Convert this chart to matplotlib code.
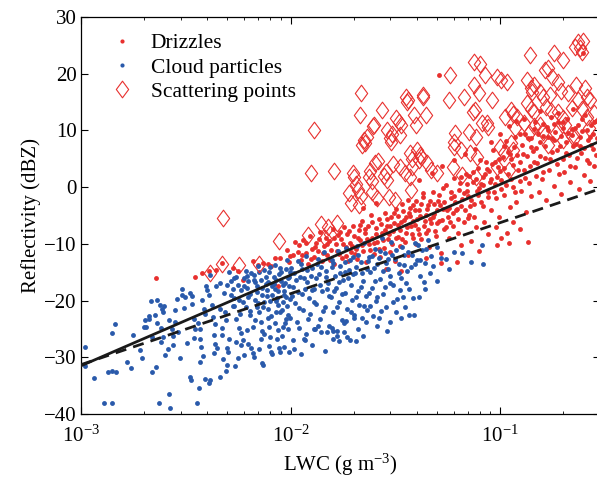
import matplotlib
matplotlib.use("Agg")
from matplotlib import pyplot as plt
from matplotlib.path import Path
from matplotlib.lines import Line2D

plt.rcParams['font.family'] = ['Liberation Serif', 'DejaVu Serif']
plt.rcParams['mathtext.fontset'] = 'custom'
plt.rcParams['mathtext.rm'] = 'Liberation Serif'
plt.rcParams['mathtext.it'] = 'Liberation Serif:italic'

# cloud particles (LWC in g m-3, reflectivity in dBZ)
cloud = [
    (0.00105, -28.1), (0.00104, -31.6), (0.00115, -33.7), (0.00129, -38.1), (0.00141, -38.1),
    (0.00135, -32.6), (0.00141, -32.4), (0.00147, -32.6), (0.00145, -24.1), (0.00141, -25.7),
    (0.00166, -30.8), (0.00173, -31.9), (0.00177, -26.1), (0.00191, -28.7), (0.00195, -30.1),
    (0.00200, -24.7), (0.00205, -24.7), (0.00203, -23.5), (0.00210, -23.2), (0.00216, -20.1),
    (0.00218, -26.4), (0.00218, -32.6), (0.00228, -31.7), (0.00225, -22.5), (0.00236, -38.1),
    (0.00230, -19.9), (0.00238, -20.8), (0.00243, -21.5), (0.00246, -22.0), (0.00240, -24.9),
    (0.00245, -26.4), (0.00240, -27.3), (0.00252, -29.6), (0.00262, -23.4), (0.00263, -36.5),
    (0.00266, -39.0), (0.00275, -27.9), (0.00272, -25.0), (0.00276, -26.3), (0.00280, -21.7),
    (0.00287, -19.7), (0.00298, -30.2), (0.00302, -18.0), (0.00305, -19.0), (0.00312, -19.3),
    (0.00330, -33.5), (0.00335, -34.0), (0.00332, -18.6), (0.00338, -19.2), (0.00345, -23.2),
    (0.00350, -25.0), (0.00345, -26.6), (0.00358, -38.1), (0.00366, -35.4), (0.00370, -25.0),
    (0.00368, -26.8), (0.00374, -28.1), (0.00382, -29.7), (0.00385, -21.5), (0.00380, -19.9),
    (0.00390, -33.8), (0.00395, -17.5), (0.00400, -18.1), (0.00410, -34.5), (0.00415, -34.0),
    (0.00412, -15.5), (0.00420, -20.7), (0.00425, -22.9), (0.00435, -24.1), (0.00438, -27.6),
    (0.00445, -28.4), (0.00432, -29.3), (0.00460, -33.5), (0.00460, -16.9), (0.00470, -26.0),
    (0.00475, -30.3), (0.00485, -22.0), (0.00492, -23.5), (0.00495, -28.3), (0.00500, -31.3),
    (0.00505, -29.0), (0.00510, -15.0), (0.00520, -16.5), (0.00530, -18.0), (0.00535, -19.5),
    (0.00540, -21.0), (0.00550, -15.8), (0.00560, -17.2), (0.00545, -31.5), (0.00560, -30.1),
    (0.00570, -24.9), (0.00580, -25.8), (0.00590, -27.0), (0.00575, -22.3), (0.00595, -20.2),
    (0.00600, -16.0), (0.00600, -29.6), (0.00730, -31.0),
    (0.0021, -22.8), (0.0023, -24.0), (0.0025, -20.9), (0.0026, -28.6), (0.0028, -23.7),
    (0.0029, -25.6), (0.0031, -21.3), (0.0032, -27.4), (0.0034, -20.6), (0.0036, -23.9),
    (0.0037, -30.8), (0.0039, -22.4), (0.0041, -19.0), (0.0043, -26.0), (0.0044, -17.4),
    (0.0046, -21.5), (0.0047, -24.9), (0.0048, -18.7), (0.0049, -32.5), (0.0051, -26.7),
    (0.0053, -20.9), (0.0055, -27.3),
    (0.00610, -14.8), (0.00620, -17.8), (0.00630, -19.4), (0.00640, -22.6), (0.00630, -27.6),
    (0.00650, -28.3), (0.00660, -29.3), (0.00670, -15.5), (0.00680, -16.8), (0.00690, -18.5),
    (0.00700, -20.5), (0.00710, -28.5), (0.00720, -23.8), (0.00730, -25.4), (0.00740, -31.3),
    (0.00750, -14.6), (0.00760, -17.0), (0.00770, -19.2), (0.00780, -21.5), (0.00790, -24.6),
    (0.00800, -26.4), (0.00810, -29.0), (0.00820, -29.5), (0.00830, -15.8), (0.00840, -18.0),
    (0.00850, -20.0), (0.00870, -25.2), (0.00880, -28.3), (0.00890, -22.0), (0.00900, -16.5),
    (0.00920, -24.7), (0.00930, -19.0), (0.00940, -24.0), (0.00950, -14.5), (0.00960, -21.0),
    (0.00980, -17.5), (0.01030, -27.0), (0.00990, -23.0), (0.00890, -29.1), (0.00980, -29.1),
    (0.0065, -15.2), (0.0068, -19.9), (0.0072, -16.3), (0.0074, -21.1), (0.0077, -18.2),
    (0.0079, -14.9), (0.0081, -22.8), (0.0083, -17.1), (0.0086, -19.6), (0.0088, -15.3),
    (0.0091, -21.7), (0.0093, -18.4), (0.0095, -23.3), (0.0097, -16.1), (0.0099, -19.8),
    (0.0068, -23.5), (0.0075, -25.9), (0.0086, -26.7), (0.0093, -28.1), (0.0064, -21.8),
    (0.0070, -13.9), (0.0084, -13.8), (0.0096, -12.9),
    (0.0052, -19.0), (0.0055, -23.3), (0.0058, -18.2), (0.0061, -21.2), (0.0063, -16.6),
    (0.0066, -24.6), (0.0069, -17.5), (0.0071, -22.0), (0.0073, -19.0), (0.0076, -15.9),
    (0.0078, -23.0), (0.0080, -20.0), (0.0082, -17.5), (0.0085, -22.0), (0.0087, -18.3),
    (0.0089, -14.3), (0.0092, -20.3), (0.0094, -16.9), (0.0097, -22.6), (0.0099, -14.9),
    (0.0058, -27.8), (0.0062, -25.2), (0.0067, -30.0), (0.0072, -26.8), (0.0079, -28.0),
    (0.0084, -24.0), (0.0091, -26.3), (0.0097, -25.0),
    (0.0050, -17.2), (0.0054, -16.1), (0.0057, -19.9), (0.0060, -17.4), (0.0062, -15.6),
    (0.0064, -18.9), (0.0067, -16.4), (0.0069, -21.1), (0.0071, -15.0), (0.0073, -17.8),
    (0.0075, -20.2), (0.0078, -16.7), (0.0080, -14.1), (0.0082, -19.0), (0.0085, -16.3),
    (0.0087, -20.8), (0.0090, -14.9), (0.0092, -17.3), (0.0095, -19.3), (0.0098, -15.8),
    (0.0101, -14.2), (0.0103, -17.6), (0.0105, -20.4), (0.0107, -23.8), (0.0109, -13.0),
    (0.0111, -15.9), (0.0113, -18.9), (0.0115, -21.6), (0.0116, -26.8), (0.0118, -12.1),
    (0.0120, -16.7), (0.0122, -19.5), (0.0124, -22.4), (0.0127, -14.3), (0.0129, -17.9),
    (0.0131, -25.1), (0.0133, -20.6), (0.0135, -12.6), (0.0137, -15.4), (0.0139, -23.2),
    (0.0142, -18.3), (0.0144, -11.5), (0.0146, -21.1), (0.0148, -14.8), (0.0151, -16.9),
    (0.0153, -24.4), (0.0156, -19.3), (0.0158, -12.9), (0.0160, -25.3), (0.0160, -22.0),
    (0.0163, -15.7), (0.0165, -17.8), (0.0167, -26.2), (0.0168, -11.2), (0.0171, -20.2),
    (0.0173, -13.9), (0.0176, -23.5), (0.0178, -16.4), (0.0180, -25.6), (0.0182, -18.7),
    (0.0185, -10.8), (0.0187, -21.4), (0.0190, -14.6), (0.0192, -26.9), (0.0194, -17.2),
    (0.0196, -19.9), (0.0198, -12.3), (0.0117, -27.0), (0.0140, -25.6), (0.0150, -25.6),
    (0.0110, -24.9), (0.0186, -26.4), (0.0166, -25.4), (0.0160, -26.8), (0.0130, -25.0),
    (0.0102, -19.2), (0.0106, -16.3), (0.0110, -21.3), (0.0114, -14.4), (0.0117, -18.0),
    (0.0121, -23.2), (0.0125, -15.6), (0.0129, -20.3), (0.0134, -13.6), (0.0138, -17.2),
    (0.0143, -21.9), (0.0147, -15.9), (0.0152, -19.2), (0.0157, -14.0), (0.0162, -18.3),
    (0.0167, -21.1), (0.0172, -15.1), (0.0177, -18.9), (0.0182, -13.2), (0.0188, -16.1),
    (0.0194, -22.1), (0.0199, -15.4), (0.0104, -28.6), (0.0112, -29.4), (0.0119, -25.9),
    (0.0127, -27.9), (0.0136, -24.4), (0.0146, -28.9), (0.0158, -24.8), (0.0170, -27.2),
    (0.0183, -23.6),
    (0.0104, -15.2), (0.0108, -18.5), (0.0112, -13.6), (0.0116, -16.0), (0.0120, -14.6),
    (0.0126, -18.2), (0.0132, -16.1), (0.0140, -14.0), (0.0150, -18.0), (0.0160, -13.4),
    (0.0170, -16.7), (0.0181, -14.9), (0.0193, -12.8), (0.0206, -14.0), (0.0220, -15.2),
    (0.0235, -13.0), (0.0250, -14.3), (0.0265, -12.5), (0.0285, -13.4), (0.0305, -12.0),
    (0.0201, -22.5), (0.0204, -15.1), (0.0207, -10.4), (0.0210, -18.4), (0.0213, -20.8),
    (0.0216, -13.2), (0.0219, -23.1), (0.0222, -16.6), (0.0225, -9.8), (0.0228, -19.2),
    (0.0232, -21.7), (0.0236, -12.4), (0.0240, -14.9), (0.0244, -17.7), (0.0248, -22.8),
    (0.0252, -10.9), (0.0256, -20.1), (0.0260, -13.6), (0.0264, -23.0), (0.0268, -16.2),
    (0.0272, -8.9), (0.0277, -18.8), (0.0282, -11.7), (0.0287, -21.2), (0.0292, -14.4),
    (0.0298, -23.8), (0.0303, -9.7), (0.0309, -17.3), (0.0315, -12.6), (0.0321, -19.8),
    (0.0328, -15.2), (0.0334, -18.1), (0.0341, -10.5), (0.0348, -13.8), (0.0356, -16.9),
    (0.0365, -11.4), (0.0375, -14.0), (0.0384, -19.6), (0.0392, -9.9), (0.0400, -12.8),
    (0.0415, -15.6), (0.0425, -11.0), (0.0438, -13.4), (0.0452, -9.4), (0.0464, -15.2),
    (0.0500, -10.6), (0.0520, -12.5), (0.0600, -11.4), (0.0660, -11.6), (0.0730, -13.2),
    (0.0830, -13.6), (0.0820, -10.2), (0.0570, -14.4), (0.0390, -22.6), (0.0345, -19.4),
    (0.0337, -23.1), (0.0367, -22.6), (0.0200, -23.1), (0.0223, -26.3), (0.0260, -24.5),
    (0.0205, -27.2), (0.0180, -24.0), (0.0240, -21.0), (0.0298, -16.9),
    (0.0205, -19.3), (0.0211, -12.0), (0.0218, -17.6), (0.0224, -21.0), (0.0231, -14.5),
    (0.0238, -18.7), (0.0245, -12.2), (0.0252, -16.5), (0.0259, -19.4), (0.0267, -11.3),
    (0.0275, -14.8), (0.0283, -17.6), (0.0291, -12.7), (0.0300, -15.6), (0.0309, -20.2),
    (0.0318, -11.0), (0.0328, -13.5), (0.0338, -16.0), (0.0348, -12.0), (0.0358, -14.8),
    (0.0369, -17.9), (0.0380, -11.9), (0.0392, -13.6), (0.0404, -10.2), (0.0416, -12.9),
    (0.0432, -16.8), (0.0445, -10.9), (0.0470, -12.2), (0.0480, -13.9), (0.0550, -12.6),
    (0.0210, -25.0), (0.0230, -23.8), (0.0270, -21.8), (0.0290, -25.4), (0.0320, -22.0),
    (0.0350, -21.1), (0.0410, -19.4), (0.0440, -18.0), (0.0500, -16.6),
]

# drizzles
drizzle = [
    (0.00228, -16.0), (0.0035, -15.9), (0.0038, -15.2), (0.0041, -14.8), (0.0044, -14.6),
    (0.0047, -13.4), (0.0053, -14.2), (0.0056, -14.8), (0.0059, -16.3), (0.0066, -13.0),
    (0.0070, -13.7), (0.0074, -13.3), (0.0078, -13.5), (0.0081, -13.9), (0.0084, -12.5),
    (0.0089, -12.5), (0.0087, -17.5), (0.0083, -17.0), (0.0096, -11.1), (0.0099, -12.2),
    (0.0103, -12.0), (0.0108, -11.4), (0.0098, -13.2), (0.0105, -9.6),
    (0.0110, -10.2), (0.0112, -12.8), (0.0115, -9.4), (0.0118, -11.6), (0.0121, -13.5),
    (0.0124, -8.7), (0.0126, -10.9), (0.0129, -12.3), (0.0132, -9.8), (0.0135, -11.3),
    (0.0138, -7.9), (0.0141, -13.0), (0.0144, -10.3), (0.0147, -8.9), (0.0150, -12.0),
    (0.0153, -9.5), (0.0156, -11.0), (0.0159, -7.4), (0.0162, -13.6), (0.0165, -10.1),
    (0.0168, -8.4), (0.0171, -11.8), (0.0174, -9.2), (0.0177, -12.5), (0.0180, -7.0),
    (0.0183, -10.6), (0.0186, -8.2), (0.0189, -13.1), (0.0192, -9.9), (0.0195, -11.4),
    (0.0198, -6.8),
    (0.0113, -11.9), (0.0119, -9.9), (0.0125, -12.6), (0.0131, -10.6), (0.0137, -9.1),
    (0.0143, -11.7), (0.0149, -10.0), (0.0155, -12.9), (0.0161, -9.0), (0.0167, -11.3),
    (0.0173, -7.9), (0.0179, -10.0), (0.0185, -12.2), (0.0191, -7.7), (0.0197, -10.3),
    (0.0202, -8.6), (0.0205, -10.9), (0.0208, -12.7), (0.0212, -7.5), (0.0215, -9.4),
    (0.0219, -5.9), (0.0222, -11.3), (0.0226, -8.1), (0.0230, -13.2), (0.0234, -6.8),
    (0.0238, -10.0), (0.0242, -4.9), (0.0246, -8.9), (0.0250, -11.8), (0.0255, -7.2),
    (0.0259, -9.6), (0.0264, -5.6), (0.0268, -12.4), (0.0273, -8.0), (0.0278, -10.7),
    (0.0283, -4.5), (0.0288, -6.9), (0.0293, -9.1), (0.0298, -11.5), (0.0303, -5.3),
    (0.0309, -7.7), (0.0315, -13.0), (0.0320, -3.8), (0.0326, -8.8), (0.0332, -10.4),
    (0.0338, -6.1), (0.0345, -4.2), (0.0351, -9.7), (0.0358, -7.0), (0.0365, -11.9),
    (0.0372, -5.0), (0.0379, -8.3), (0.0386, -3.1), (0.0393, -6.6), (0.0399, -10.1),
    (0.0255, -2.8), (0.0285, -14.5), (0.0335, -14.8), (0.0362, -2.2), (0.0221, -3.6),
    (0.0203, -11.8), (0.0209, -9.0), (0.0214, -6.6), (0.0220, -10.2), (0.0227, -7.3),
    (0.0233, -9.2), (0.0239, -11.1), (0.0245, -6.2), (0.0251, -9.9), (0.0257, -8.3),
    (0.0263, -10.9), (0.0270, -6.5), (0.0276, -9.3), (0.0282, -7.6), (0.0289, -5.6),
    (0.0296, -8.2), (0.0304, -10.0), (0.0311, -6.4), (0.0318, -8.9), (0.0325, -5.1),
    (0.0333, -7.5), (0.0341, -9.1), (0.0349, -5.8), (0.0357, -8.0), (0.0366, -4.6),
    (0.0374, -6.9), (0.0383, -9.0), (0.0392, -4.0), (0.0401, -5.7),
    (0.0300, -6.8), (0.0313, -4.6), (0.0327, -6.6), (0.0340, -2.9), (0.0355, -5.2),
    (0.0370, -3.6), (0.0385, -6.0), (0.0398, -2.5), (0.0415, -5.0), (0.0430, -1.1),
    (0.0448, -3.9), (0.0463, -5.6), (0.0482, -2.9), (0.0498, -6.4), (0.0518, -3.2),
    (0.0536, -0.2), (0.0558, -4.0), (0.0578, -6.1), (0.0602, -1.6), (0.0622, -3.8),
    (0.0648, 1.8), (0.0670, -1.0), (0.0698, 0.5), (0.0720, -3.4), (0.0745, 2.7),
    (0.0775, -0.7), (0.0800, 4.8), (0.0830, 0.3), (0.0870, 3.2), (0.0910, 1.4),
    (0.0950, 4.5), (0.1000, 2.8), (0.1050, 7.2), (0.1120, 5.9), (0.1180, 8.9),
    (0.1250, 4.4), (0.1320, 9.3), (0.1400, 7.0), (0.1470, 11.4), (0.1550, 13.5),
    (0.0405, -7.4), (0.0412, -4.0), (0.0420, -9.2), (0.0428, -1.8), (0.0436, -5.9),
    (0.0444, -8.1), (0.0452, -3.2), (0.0460, -10.6), (0.0468, -6.4), (0.0477, -0.8),
    (0.0486, -4.7), (0.0495, -8.7), (0.0504, -2.5), (0.0513, -6.0), (0.0523, -11.6),
    (0.0532, -3.9), (0.0542, -7.3), (0.0552, 0.3), (0.0562, -5.2), (0.0573, -9.0),
    (0.0583, -2.0), (0.0594, -6.8), (0.0605, 1.6), (0.0616, -4.1), (0.0628, -8.0),
    (0.0640, -0.5), (0.0652, -3.4), (0.0676, -6.1), (0.0688, 2.4), (0.0701, -1.6),
    (0.0714, -4.9), (0.0727, -9.5), (0.0740, 0.9), (0.0754, -3.0), (0.0768, -7.0),
    (0.0782, 3.3), (0.0797, -0.2), (0.0412, 1.2), (0.0475, 2.5), (0.0530, 3.7),
    (0.0600, 4.8), (0.0680, 5.9), (0.0760, 6.8), (0.0510, 19.8), (0.0445, -12.5),
    (0.0520, -13.4), (0.0620, -13.2), (0.0650, -10.2), (0.0790, -11.3), (0.0700, -5.5),
    (0.0410, -8.3), (0.0421, -3.0), (0.0432, -6.9), (0.0443, -4.9), (0.0454, -7.5),
    (0.0465, -2.4), (0.0477, -5.3), (0.0489, -7.8), (0.0501, -4.0), (0.0514, -1.3),
    (0.0527, -5.8), (0.0540, -2.7), (0.0554, -7.0), (0.0568, -3.6), (0.0582, -0.9),
    (0.0597, -4.5), (0.0612, -2.6), (0.0628, -5.6), (0.0644, 0.7), (0.0660, -2.1),
    (0.0677, -4.0), (0.0694, -0.6), (0.0712, 2.0), (0.0730, -2.3), (0.0749, -5.2),
    (0.0768, 1.5), (0.0788, -1.4),
    (0.0812, -2.6), (0.0827, 1.8), (0.0843, -6.2), (0.0858, 4.4), (0.0874, -0.9),
    (0.0890, 2.9), (0.0907, -4.1), (0.0924, 6.6), (0.0941, 0.5), (0.0958, -2.0),
    (0.0976, 3.6), (0.0994, -5.3), (0.1012, 1.2), (0.1031, 5.4), (0.1050, -1.3),
    (0.1070, 8.2), (0.1090, 2.3), (0.1110, -3.5), (0.1130, 4.9), (0.1151, 0.0),
    (0.1172, 7.1), (0.1194, -2.6), (0.1216, 3.1), (0.1239, 9.4), (0.1262, -0.7),
    (0.1285, 5.9), (0.1309, 1.7), (0.1333, -4.4), (0.1358, 8.6), (0.1383, 3.8),
    (0.1409, -1.5), (0.1435, 6.4), (0.1460, 10.3), (0.1480, 2.0), (0.0880, -8.3),
    (0.0960, -7.0), (0.1010, -9.0), (0.1150, -6.1), (0.1250, -7.4), (0.0910, 7.9),
    (0.1000, 9.3), (0.1100, 10.8), (0.1190, 11.6), (0.1300, 12.1), (0.0970, -10.2),
    (0.1100, -9.9), (0.1360, -9.7), (0.1080, -8.1),
    (0.0808, 0.6), (0.0829, -3.4), (0.0850, 2.4), (0.0872, -1.8), (0.0894, 0.9),
    (0.0917, 4.0), (0.0940, -0.9), (0.0964, 1.8), (0.0989, 5.0), (0.1014, -0.4),
    (0.1040, 3.3), (0.1067, 0.4), (0.1094, 6.2), (0.1122, 1.4), (0.1151, 3.9),
    (0.1180, -0.8), (0.1211, 5.7), (0.1242, 1.0), (0.1273, 7.4), (0.1306, 3.0),
    (0.1340, 5.5), (0.1374, 0.8), (0.1409, 8.6), (0.1445, 4.4), (0.1482, 6.9),
    (0.1505, 4.2), (0.1530, -0.8), (0.1556, 7.9), (0.1582, 1.5), (0.1608, 11.2),
    (0.1635, 5.1), (0.1662, -2.3), (0.1690, 8.8), (0.1718, 3.0), (0.1746, 12.4),
    (0.1775, 6.2), (0.1805, 0.2), (0.1835, 9.7), (0.1865, 4.0), (0.1896, 13.1),
    (0.1928, 7.3), (0.1960, -1.2), (0.1992, 10.5), (0.2025, 2.6), (0.2059, 8.0),
    (0.2093, 12.0), (0.2128, 5.6), (0.2163, 0.9), (0.2199, 9.2), (0.2236, 13.8),
    (0.2273, 3.5), (0.2311, 7.6), (0.2349, 11.0), (0.2388, -0.3), (0.2428, 6.0),
    (0.2468, 9.9), (0.2509, 2.1), (0.2551, 12.8), (0.2593, 4.8), (0.2636, 8.4),
    (0.2680, 1.0), (0.2725, 10.9), (0.2770, 6.7), (0.2816, 3.7), (0.2860, 11.7),
    (0.2500, 23.6), (0.2700, 8.8), (0.2800, 11.5), (0.2000, 5.0), (0.1700, 10.0),
    (0.1900, 11.4), (0.2200, 10.3), (0.1600, 9.0), (0.1800, 8.3), (0.2400, 7.2),
    (0.1520, 9.4), (0.1559, 5.5), (0.1599, 2.6), (0.1640, 7.3), (0.1682, 10.6),
    (0.1725, 5.0), (0.1769, 8.7), (0.1815, 11.2), (0.1861, 6.5), (0.1909, 2.3),
    (0.1958, 9.0), (0.2008, 11.5), (0.2060, 6.1), (0.2113, 9.6), (0.2167, 3.7),
    (0.2222, 7.2), (0.2279, 10.5), (0.2338, 5.2), (0.2398, 8.8), (0.2459, 12.1),
    (0.2522, 6.9), (0.2587, 10.0), (0.2653, 4.2), (0.2721, 7.5), (0.2791, 9.4),
    (0.2860, 5.6), (0.2900, 8.6),
]

# scattering points
scatter_pts = [
    (0.00413, -15.2), (0.0047, -13.6), (0.00476, -5.5), (0.0057, -13.7), (0.0071, -13.6),
    (0.0088, -9.5), (0.0121, -8.5), (0.0129, 10.1), (0.0125, 2.5), (0.0140, -6.5),
    (0.0146, -9.0), (0.0151, -7.0), (0.0161, 2.9), (0.0167, -6.3), (0.0155, -8.2),
    (0.0190, -1.0), (0.0195, -2.8), (0.0200, 1.8), (0.0205, 0.5), (0.0210, -0.5),
    (0.0198, 2.5), (0.0217, 16.6), (0.0215, 12.7), (0.0212, -3.2), (0.0218, -1.5),
    (0.0220, 7.4), (0.0225, 8.3), (0.0232, 8.8), (0.0226, 7.8), (0.0236, 1.8),
    (0.0245, -0.8), (0.0250, 11.0), (0.0253, 4.2), (0.0248, 10.8), (0.0240, 2.8),
    (0.0244, 1.0), (0.0258, -2.0), (0.0262, 4.6), (0.0274, 13.6), (0.0278, 2.0),
    (0.0285, 2.7), (0.0288, 1.2), (0.0290, 10.1), (0.0295, -1.7), (0.0298, 8.7),
    (0.0302, 8.0), (0.0306, 9.3), (0.0310, 4.0), (0.0315, -2.3), (0.0320, 12.2),
    (0.0330, 11.5), (0.0334, 9.2), (0.0338, 11.0), (0.0334, 3.5), (0.0350, 2.5),
    (0.0356, 15.9), (0.0360, 15.0), (0.0365, 15.4), (0.0370, 6.0), (0.0372, 1.8),
    (0.0375, -0.5), (0.0378, 3.5), (0.0382, 5.0), (0.0390, 12.7), (0.0395, 11.0),
    (0.0400, 6.5), (0.0410, 4.8), (0.0415, 5.6), (0.0420, 5.3), (0.0427, 15.9),
    (0.0430, 16.2), (0.0445, 12.7), (0.0450, 4.2), (0.0470, 3.0), (0.0500, 2.5),
    (0.0577, 19.8), (0.0570, 15.3), (0.0610, 9.5), (0.0605, 8.0), (0.0600, 7.1),
    (0.0595, 3.5), (0.0670, 15.9), (0.0650, 6.5), (0.0660, 2.2), (0.0710, 9.7),
    (0.0720, 6.0), (0.0740, 13.3), (0.0750, 18.0), (0.0760, 13.6), (0.0770, 8.8),
    (0.0750, 22.0), (0.0800, 21.8), (0.0790, 16.6), (0.0780, 5.3), (0.0770, 1.8),
    (0.0820, 11.3), (0.0850, 19.8), (0.0880, 10.6), (0.0870, 11.3), (0.0920, 15.4),
    (0.0970, 19.4), (0.1000, 7.1), (0.0970, 3.5), (0.1010, 18.9), (0.1050, 6.0),
    (0.1060, 12.4), (0.1080, 18.5), (0.1100, 3.0), (0.1130, 13.6), (0.1150, 12.9),
    (0.1200, 12.4), (0.1130, 7.8), (0.1150, 6.5), (0.1180, 10.5), (0.1340, 18.9),
    (0.1390, 23.3), (0.1400, 17.5), (0.1420, 16.8), (0.1450, 18.0), (0.1340, 14.8),
    (0.1400, 13.7), (0.1450, 13.2), (0.1300, 11.3), (0.1380, 9.5), (0.1460, 10.8),
    (0.1550, 16.8), (0.1600, 15.9), (0.1640, 20.6), (0.1700, 21.0), (0.1730, 16.3),
    (0.1770, 19.4), (0.1550, 11.0), (0.1600, 9.8), (0.1650, 14.1), (0.1750, 13.5),
    (0.1800, 23.6), (0.1900, 18.5), (0.1950, 17.0), (0.2000, 22.4), (0.2100, 16.6),
    (0.1900, 13.2), (0.2000, 12.2), (0.2050, 11.0), (0.1850, 9.5), (0.2000, 8.3),
    (0.2200, 9.0), (0.2200, 14.0), (0.2270, 24.7), (0.2350, 25.6), (0.2450, 23.8),
    (0.2400, 24.5), (0.2300, 18.0), (0.2550, 17.5), (0.2350, 15.4), (0.2450, 13.8),
    (0.2600, 15.9), (0.2700, 15.4), (0.2600, 12.4), (0.2800, 13.0), (0.2650, 10.5),
    (0.2500, 25.8), (0.2280, 8.8), (0.1700, 7.5),
]

# fitted relations: end points (LWC, dBZ)
fit_solid = [(0.001, -31.5), (0.3, 8.1)]
fit_dashed = [(0.001, -31.3), (0.3, -0.3)]

red = '#e8302e'
blue = '#2a5aab'
fs = 15

fig = plt.figure(figsize=(5.97, 4.83), dpi=100)
ax = fig.add_axes([81 / 597, 69 / 483, 519 / 597, 397 / 483])

cx, cy = zip(*drizzle)
ax.plot(cx, cy, 'o', color=red, ms=3.5, mew=0, zorder=2)
bx, by = zip(*cloud)
ax.plot(bx, by, 'o', color=blue, ms=3.5, mew=0, zorder=3)

diamond = Path([(0, 1), (0.74, 0), (0, -1), (-0.74, 0), (0, 1)],
               [Path.MOVETO, Path.LINETO, Path.LINETO, Path.LINETO, Path.CLOSEPOLY])
sx, sy = zip(*scatter_pts)
ax.plot(sx, sy, linestyle='none', marker=diamond, ms=12, mfc='none', mec=red, mew=0.8, zorder=4)

lx, ly = zip(*fit_solid)
ax.plot(lx, ly, '-', color='#1a1a1a', lw=2.0, zorder=5)
lx, ly = zip(*fit_dashed)
ax.plot(lx, ly, '--', color='#1a1a1a', lw=2.0, dashes=(4, 2.6), zorder=5)

ax.set_xscale('log')
ax.set_xlim(1e-3, 0.3)
ax.set_ylim(-40, 30)
ax.set_yticks([-40, -30, -20, -10, 0, 10, 20, 30])
ax.tick_params(which='both', direction='in', top=True, right=True, labelsize=fs)
ax.tick_params(which='major', length=5, width=0.8)
ax.tick_params(which='minor', length=2.5, width=0.6)
ax.tick_params(axis='x', which='major', pad=8)
ax.tick_params(axis='y', which='major', pad=3)
for s in ax.spines.values():
    s.set_linewidth(0.9)

ax.set_xlabel('LWC (g m$^{-3}$)', fontsize=fs, labelpad=4)
ax.set_ylabel('Reflectivity (dBZ)', fontsize=fs, labelpad=2)

handles = [
    Line2D([], [], linestyle='none', marker='o', color=red, ms=3.0, mew=0),
    Line2D([], [], linestyle='none', marker='o', color=blue, ms=3.0, mew=0),
    Line2D([], [], linestyle='none', marker=diamond, ms=12, mfc='none', mec=red, mew=0.8),
]
ax.legend(handles, ['Drizzles', 'Cloud particles', 'Scattering points'],
          loc='upper left', bbox_to_anchor=(0.041, 0.981), frameon=False, fontsize=fs + 0.5,
          handlelength=1.0, handletextpad=0.85, labelspacing=0.2, borderaxespad=0)

fig.savefig('out.png', dpi=100)
